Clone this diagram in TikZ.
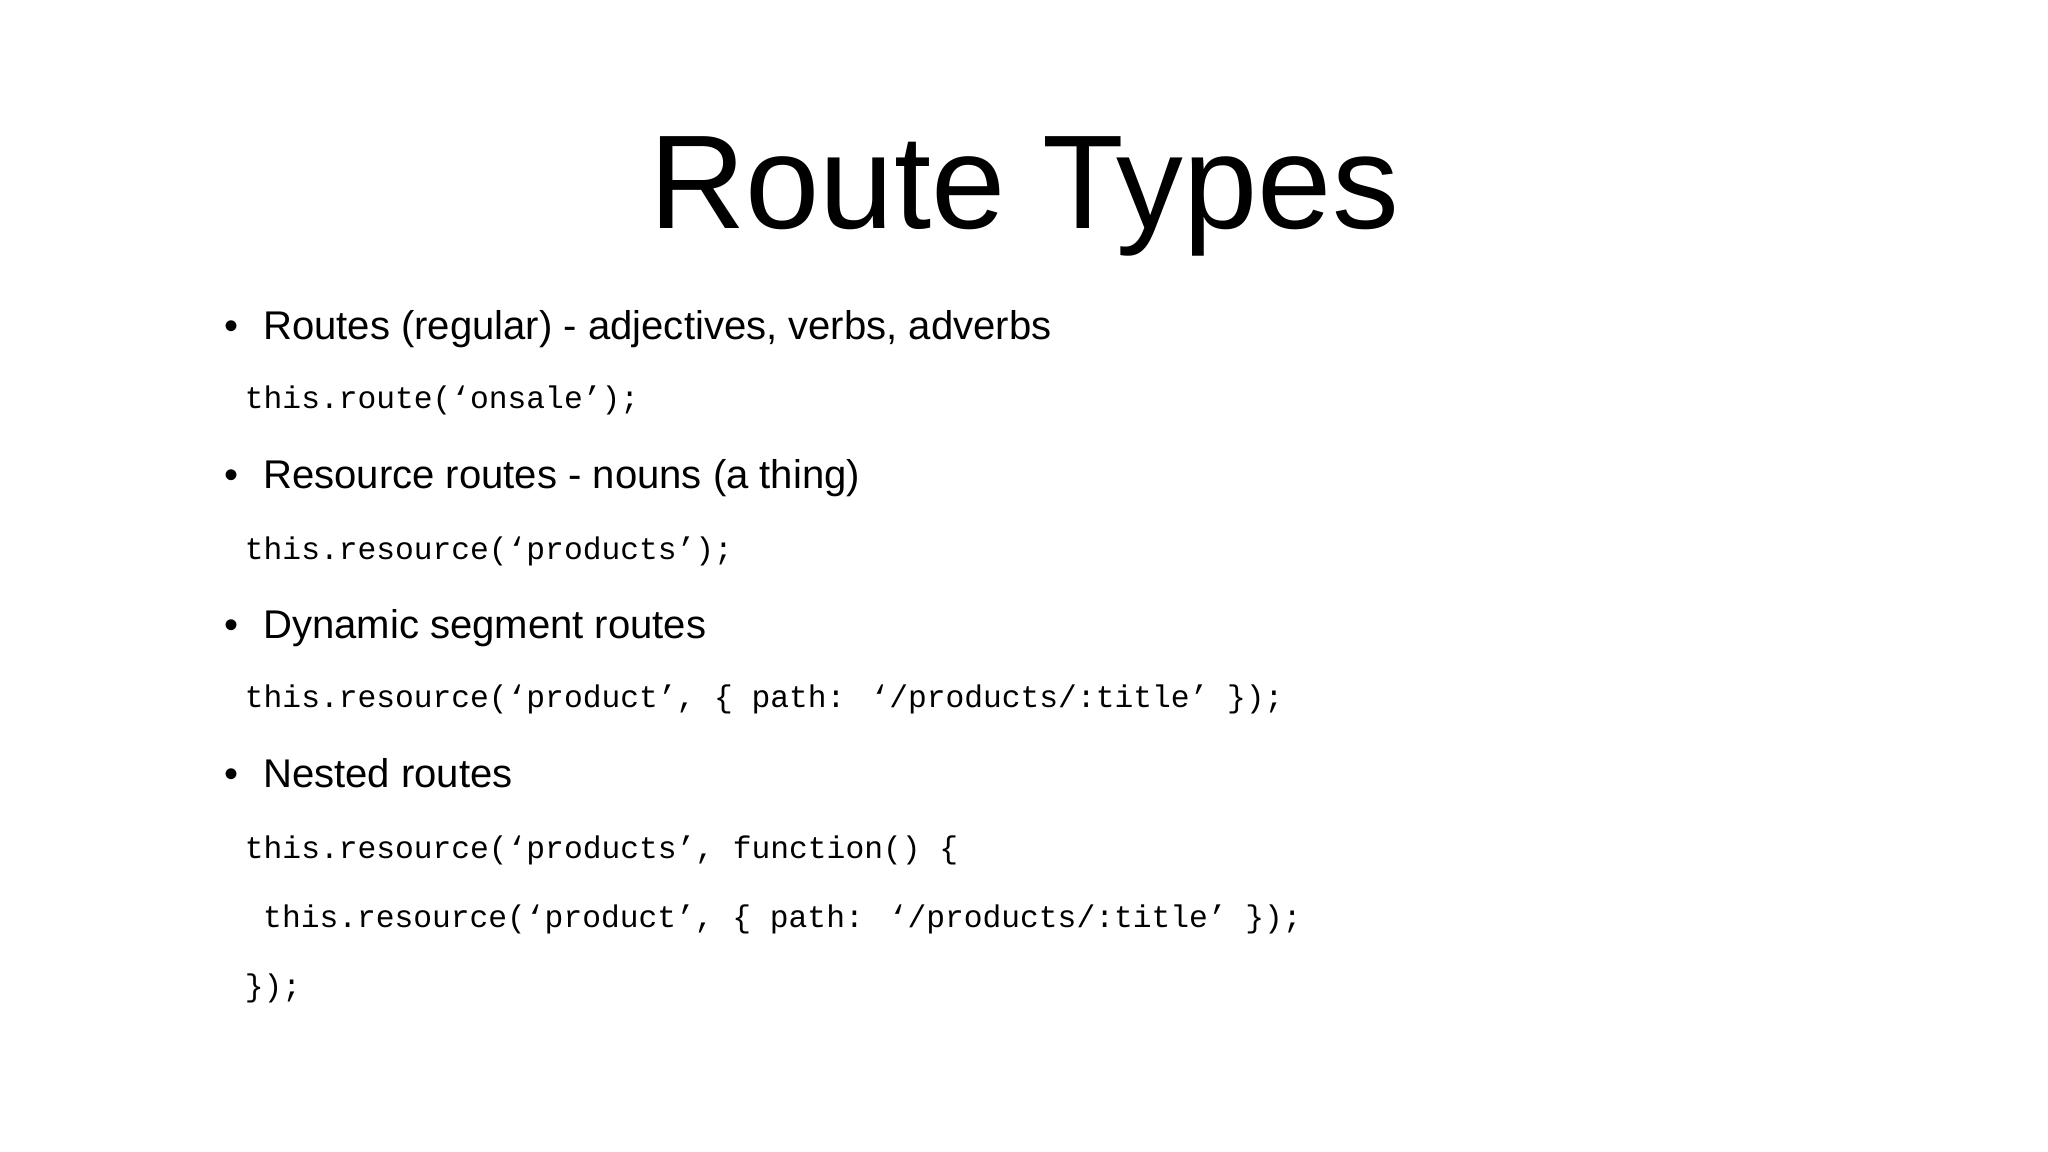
\documentclass[tikz,border=0pt]{standalone}
\usepackage{fontspec}
\setmainfont{Liberation Sans}
\newfontfamily\codefont{Liberation Mono}
\begin{document}
\begin{tikzpicture}[x=0.01306cm,y=-0.01306cm,
  ttl/.style={anchor=base,inner sep=0pt,font=\fontsize{38}{40}\selectfont},
  btxt/.style={anchor=base west,inner sep=0pt,font=\fontsize{11.4}{13}\selectfont},
  bdot/.style={anchor=base,inner sep=0pt,font=\fontsize{11.4}{13}\selectfont},
  code/.style={anchor=base west,inner sep=0pt,font=\codefont\fontsize{8.9}{10}\selectfont}]
\useasboundingbox (0,0) rectangle (1568,882);
\node[ttl] (title) at (784,175) {Route Types};
\node[bdot] (d1) at (177,260) {•};
\node[btxt] (b1) at (201,260) {Routes (regular) - adjectives, verbs, adverbs};
\node[code] (c1) at (187,313) {this.route(‘onsale’);};
\node[bdot] (d2) at (177,374) {•};
\node[btxt] (b2) at (201,374) {Resource routes - nouns (a thing)};
\node[code] (c2) at (187,428) {this.resource(‘products’);};
\node[bdot] (d3) at (177,489) {•};
\node[btxt] (b3) at (201,489) {Dynamic segment routes};
\node[code] (c3) at (187,542) {this.resource(‘product’, \{ path: ‘/products/:title’ \});};
\node[bdot] (d4) at (177,603) {•};
\node[btxt] (b4) at (201,603) {Nested routes};
\node[code] (c4) at (187,657) {this.resource(‘products’, function() \{};
\node[code] (c5) at (201,710) {this.resource(‘product’, \{ path: ‘/products/:title’ \});};
\node[code] (c6) at (187,763) {\});};
\end{tikzpicture}
\end{document}
